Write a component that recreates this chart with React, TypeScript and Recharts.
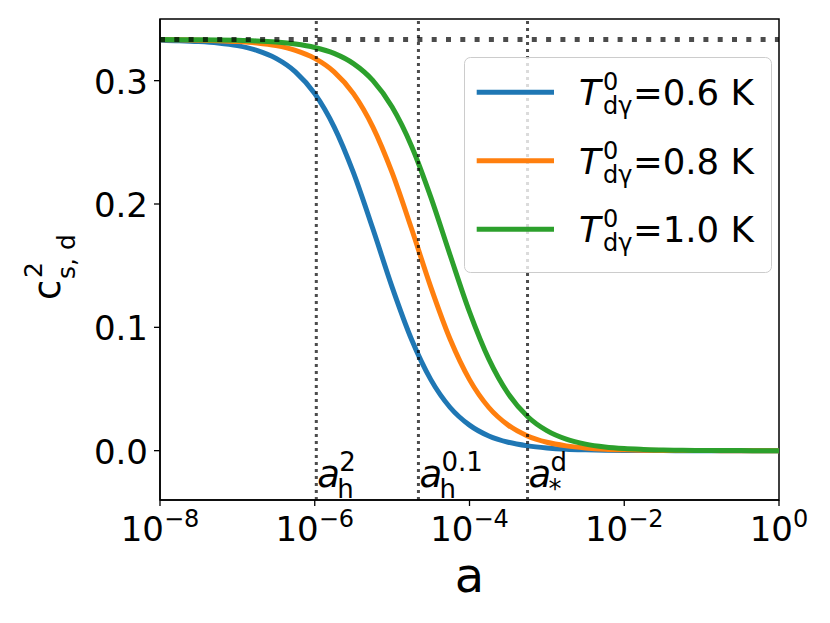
import React from "react";
import {
  LineChart,
  Line,
  XAxis,
  YAxis,
  ReferenceLine,
  ReferenceArea,
  Legend,
} from "recharts";

const FONT = "'DejaVu Sans', sans-serif";

// x = log10(a)
const logA = [
  -8, -7.75, -7.5, -7.25, -7, -6.75, -6.5, -6.25, -6, -5.75, -5.5, -5.25, -5,
  -4.75, -4.5, -4.25, -4, -3.75, -3.5, -3.25, -3, -2.75, -2.5, -2.25, -2, -1.75,
  -1.5, -1.25, -1, -0.75, -0.5, -0.25, 0,
];

// c_s,d^2 for T0 = 0.6 K
const cs2T06 = [
  0.3328, 0.3324, 0.3317, 0.3305, 0.3284, 0.3246, 0.3181, 0.3072, 0.2895,
  0.2626, 0.2254, 0.1801, 0.1326, 0.0903, 0.0576, 0.035, 0.0207, 0.0119,
  0.0068, 0.0039, 0.0022, 0.0012, 0.0007, 0.0004, 0.0002, 0.0001, 0.0001, 0, 0,
  0, 0, 0, 0,
];

// T0 = 0.8 K
const cs2T08 = [
  0.3332, 0.3331, 0.3328, 0.3324, 0.3317, 0.3305, 0.3284, 0.3246, 0.3181,
  0.3072, 0.2895, 0.2626, 0.2254, 0.1801, 0.1326, 0.0903, 0.0576, 0.035,
  0.0207, 0.0119, 0.0068, 0.0039, 0.0022, 0.0012, 0.0007, 0.0004, 0.0002,
  0.0001, 0.0001, 0, 0, 0, 0,
];

// T0 = 1.0 K
const cs2T10 = [
  0.3333, 0.3332, 0.3331, 0.333, 0.3327, 0.3322, 0.3313, 0.3297, 0.3269,
  0.3221, 0.3138, 0.3002, 0.2786, 0.2471, 0.2056, 0.1584, 0.1125, 0.0742,
  0.0462, 0.0277, 0.0162, 0.0093, 0.0053, 0.003, 0.0017, 0.001, 0.0005, 0.0003,
  0.0002, 0.0001, 0.0001, 0, 0,
];

const xTicks = [-8, -6, -4, -2, 0];
const yTicks = [0, 0.1, 0.2, 0.3];
const radiationLimit = 0.3333;

// vertical markers (log10 a) and their labels
const markerLogA = [-5.98, -4.66, -3.25];
const markerSub = ["h", "h", "*"];
const markerSup = ["2", "0.1", "d"];

const temps = ["0.6", "0.8", "1.0"];
const colors = ["#1f77b4", "#ff7f0e", "#2ca02c"];
const keys = ["t06", "t08", "t10"];

const data = logA.map((x, i) => ({
  logA: x,
  t06: cs2T06[i],
  t08: cs2T08[i],
  t10: cs2T10[i],
}));

const XTick = ({ x, y, payload }: any) => {
  const v = payload.value;
  const exp = v < 0 ? `\u2212${-v}` : `${v}`;
  return (
    <text x={x} y={y + 33} textAnchor="middle" fontFamily={FONT} fill="black">
      <tspan fontSize={34}>10</tspan>
      <tspan fontSize={24} dy={-14}>
        {exp}
      </tspan>
    </text>
  );
};

const YTick = ({ x, y, payload }: any) => (
  <text
    x={x - 4}
    y={y + 13}
    textAnchor="end"
    fontFamily={FONT}
    fontSize={34}
    fill="black"
  >
    {payload.value.toFixed(1)}
  </text>
);

const MarkerLabel = ({ viewBox, sub, sup }: any) => {
  const x = viewBox.x + 1;
  const base = viewBox.y + viewBox.height - 13;
  return (
    <g fontFamily={FONT} fill="black">
      <text x={x} y={base} fontSize={37} fontStyle="italic">
        a
      </text>
      <text x={x + 20} y={base + 11} fontSize={26}>
        {sub}
      </text>
      <text x={x + 22} y={base - 16} fontSize={26}>
        {sup}
      </text>
    </g>
  );
};

const XLabel = ({ viewBox }: any) => (
  <text
    x={viewBox.x + viewBox.width / 2}
    y={592}
    textAnchor="middle"
    fontFamily={FONT}
    fontSize={48}
    fill="black"
  >
    a
  </text>
);

const YLabel = () => (
  <g transform="translate(60, 300) rotate(-90)" fontFamily={FONT} fill="black">
    <text x={0} y={0} fontSize={37}>
      c
    </text>
    <text x={22} y={-18} fontSize={25}>
      2
    </text>
    <text x={21} y={15} fontSize={25}>
      s, d
    </text>
  </g>
);

const LegendBox = () => (
  <svg width={308} height={216} style={{ display: "block" }}>
    <rect
      x={0.5}
      y={0.5}
      width={307}
      height={215}
      rx={6}
      fill="white"
      fillOpacity={0.8}
      stroke="#cccccc"
    />
    {temps.map((t, i) => {
      const y0 = 35.3 + i * 68.5;
      return (
        <g key={t} fontFamily={FONT} fill="black">
          <line x1={12.7} x2={90} y1={y0} y2={y0} stroke={colors[i]} strokeWidth={5} />
          <text x={115} y={y0 + 13} fontSize={35.5} fontStyle="italic">
            T
          </text>
          <text x={139} y={y0 - 2} fontSize={24}>
            0
          </text>
          <text x={139} y={y0 + 22} fontSize={24}>
            dγ
          </text>
          <text x={169} y={y0 + 13} fontSize={35.5}>
            ={t} K
          </text>
        </g>
      );
    })}
  </svg>
);

const App: React.FC = () => {
  return (
    <div style={{ position: "absolute", left: 0, top: 0, background: "white" }}>
      <LineChart
        width={830}
        height={623}
        data={data}
        margin={{ top: 19, right: 51, bottom: 60, left: 100 }}
      >
        <XAxis
          dataKey="logA"
          type="number"
          domain={[-8, 0]}
          ticks={xTicks}
          allowDataOverflow
          height={63}
          tickSize={6}
          tick={<XTick />}
          axisLine={{ stroke: "black", strokeWidth: 1.5 }}
          tickLine={{ stroke: "black", strokeWidth: 1.3 }}
          label={<XLabel />}
        />
        <YAxis
          type="number"
          domain={[-0.04, 0.35]}
          ticks={yTicks}
          allowDataOverflow
          width={60}
          tickSize={6}
          tick={<YTick />}
          axisLine={{ stroke: "black", strokeWidth: 1.5 }}
          tickLine={{ stroke: "black", strokeWidth: 1.3 }}
          label={<YLabel />}
        />
        <ReferenceArea
          x1={-8}
          x2={0}
          y1={-0.04}
          y2={0.35}
          fill="none"
          stroke="black"
          strokeWidth={1.5}
          fillOpacity={0}
        />
        {keys.map((k, i) => (
          <Line
            key={k}
            dataKey={k}
            type="monotone"
            stroke={colors[i]}
            strokeWidth={5}
            dot={false}
            activeDot={false}
            isAnimationActive={false}
          />
        ))}
        <ReferenceLine
          y={radiationLimit}
          stroke="black"
          strokeOpacity={0.7}
          strokeWidth={5}
          strokeDasharray="5 9.3"
        />
        {markerLogA.map((m, i) => (
          <ReferenceLine
            key={m}
            x={m}
            stroke="black"
            strokeOpacity={0.7}
            strokeWidth={3}
            strokeDasharray="3 4"
            label={<MarkerLabel sub={markerSub[i]} sup={markerSup[i]} />}
          />
        ))}
        <Legend
          layout="vertical"
          align="center"
          verticalAlign="middle"
          content={<LegendBox />}
          wrapperStyle={{ left: 464, top: 57, width: 308, height: 216 }}
        />
      </LineChart>
    </div>
  );
};

export default App;
